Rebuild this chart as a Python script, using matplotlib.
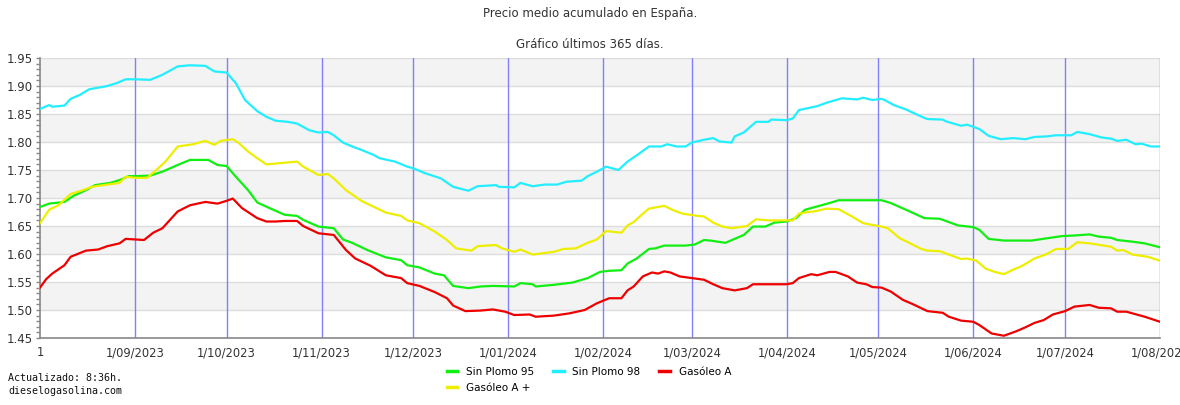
import numpy as np
import pandas as pd
import matplotlib
matplotlib.use("Agg")
import matplotlib.pyplot as plt
from matplotlib.lines import Line2D

# days counted from 1/08/2023, prices in EUR/l
sp95_days = [0, 3, 8, 11, 15, 18, 23, 26, 29, 31, 36, 40, 45, 49, 55, 58, 61, 64, 68, 71, 75, 80, 84, 86, 91,
             96, 99, 102, 107, 113, 118, 120, 124, 129, 132, 135, 140, 144, 148, 155, 157, 161, 162, 168, 174, 179, 183,
             186, 190, 192, 195, 199, 201, 204, 211, 214, 217, 219, 224, 227, 230, 233, 237, 240, 244, 247, 250, 254,
             258, 261, 273, 275, 278, 283, 285, 289, 294, 300, 305, 307, 310, 315, 324, 329, 334, 338, 343, 346, 350,
             352, 357, 361, 366]
sp95 = [1.684, 1.690, 1.693, 1.704, 1.714, 1.723, 1.727, 1.732, 1.739, 1.739, 1.740, 1.747, 1.759, 1.768, 1.768,
        1.759, 1.757, 1.738, 1.714, 1.692, 1.682, 1.670, 1.668, 1.661, 1.649,
        1.646, 1.626, 1.620, 1.607, 1.594, 1.589, 1.580, 1.576, 1.565, 1.562, 1.543, 1.539, 1.542, 1.543, 1.542,
        1.548, 1.546, 1.542, 1.545, 1.549, 1.557, 1.568,
        1.570, 1.571, 1.583, 1.592, 1.609, 1.610, 1.615, 1.615, 1.617, 1.625, 1.624, 1.620, 1.627, 1.634, 1.649,
        1.649, 1.656, 1.658, 1.664, 1.679, 1.685, 1.691, 1.696, 1.696, 1.696, 1.691, 1.679, 1.674, 1.664, 1.663,
        1.651, 1.648, 1.643, 1.627, 1.624, 1.624, 1.628, 1.632, 1.633, 1.635, 1.631, 1.629, 1.625, 1.622, 1.619,
        1.612]

sp98_days = [0, 3, 4, 8, 10, 13, 16, 22, 25, 28, 31, 36, 40, 45, 49, 54, 57, 61, 64, 67, 71, 74, 77, 81, 84, 88, 91,
             94, 96, 99, 102, 105, 109, 111, 116, 120, 122, 126, 131, 135, 140, 143, 149, 150, 155, 157, 161, 165, 169,
             172, 177, 179, 182, 185, 189, 192, 196, 199, 203, 205, 208, 211, 213, 217, 220, 222, 226, 227, 230, 234,
             238, 239, 244, 246, 248, 254, 257, 262, 267, 269, 272, 275, 276, 279, 283, 289, 290, 295, 296, 301, 303,
             307, 310, 314, 318, 322, 325, 329, 332, 337, 339, 343, 347, 350, 352, 355, 358, 360, 363, 366]
sp98 = [1.859, 1.866, 1.863, 1.865, 1.877, 1.884, 1.894, 1.900, 1.905, 1.912, 1.912, 1.911, 1.920, 1.935, 1.937,
        1.936, 1.926, 1.924, 1.905, 1.875, 1.855, 1.845, 1.838, 1.836, 1.833, 1.821, 1.817,
        1.818, 1.812, 1.799, 1.792, 1.786, 1.777, 1.771, 1.765, 1.756, 1.753, 1.744, 1.735, 1.720, 1.713, 1.721,
        1.723, 1.720, 1.719, 1.727, 1.721, 1.724, 1.724, 1.729, 1.731, 1.739, 1.747, 1.756,
        1.750, 1.765, 1.780, 1.792, 1.792, 1.796, 1.792, 1.792, 1.799, 1.804, 1.807, 1.801, 1.799, 1.810, 1.817,
        1.836, 1.836, 1.840, 1.839, 1.842, 1.857, 1.864, 1.870, 1.878, 1.876, 1.879, 1.875,
        1.877, 1.875, 1.866, 1.858, 1.843, 1.841, 1.840, 1.837, 1.829, 1.831, 1.823, 1.811, 1.805, 1.807, 1.805,
        1.809, 1.810, 1.812, 1.812, 1.818, 1.814, 1.808, 1.806, 1.802, 1.804, 1.796, 1.797, 1.792, 1.792]

ga_days = [0, 2, 4, 8, 10, 15, 19, 22, 26, 28, 31, 34, 37, 40, 45, 49, 54, 58, 61, 63, 66, 71, 74, 77, 80, 84, 86, 91,
           96, 100, 103, 108, 113, 118, 120, 124, 129, 133, 135, 139, 144, 148, 152, 155, 160, 162, 168, 173, 178, 182,
           186, 190, 192, 194, 197, 200, 202, 204, 206, 209, 213, 217, 220, 223, 227, 231, 233, 244, 246, 248, 252, 254,
           258, 260, 264, 267, 270, 272, 275, 278, 282, 285, 290, 295, 297, 301, 305, 307, 311, 315, 319, 322, 325, 328,
           331, 335, 338, 343, 346, 350, 352, 355, 361, 366]
ga = [1.540, 1.555, 1.565, 1.580, 1.595, 1.606, 1.608, 1.614, 1.619, 1.627, 1.626, 1.625, 1.638, 1.646, 1.676,
      1.687, 1.693, 1.690, 1.695, 1.699, 1.682, 1.664, 1.658, 1.658, 1.659, 1.659, 1.650, 1.637,
      1.634, 1.607, 1.592, 1.579, 1.562, 1.557, 1.548, 1.543, 1.532, 1.521, 1.508, 1.498, 1.499, 1.501, 1.497,
      1.491, 1.492, 1.488, 1.490, 1.494, 1.500, 1.512,
      1.521, 1.521, 1.535, 1.542, 1.560, 1.567, 1.565, 1.569, 1.567, 1.560, 1.557, 1.554, 1.546, 1.539, 1.535,
      1.539, 1.546, 1.546, 1.548, 1.557, 1.564, 1.562, 1.568, 1.568, 1.560, 1.549, 1.546, 1.541,
      1.540, 1.533, 1.518, 1.511, 1.498, 1.495, 1.488, 1.481, 1.479, 1.473, 1.458, 1.454, 1.462, 1.469, 1.477,
      1.482, 1.492, 1.498, 1.506, 1.509, 1.504, 1.503, 1.497, 1.497, 1.488, 1.479]

gap_days = [0, 3, 6, 10, 14, 17, 22, 26, 28, 31, 35, 38, 41, 45, 50, 54, 57, 59, 63, 65, 68, 71, 74, 80, 84, 86, 91,
            94, 96, 100, 105, 108, 113, 118, 120, 124, 129, 133, 136, 141, 143, 149, 151, 155, 157, 161, 168, 171, 175,
            179, 182, 185, 190, 192, 194, 197, 199, 204, 207, 210, 215, 217, 220, 223, 226, 231, 234, 238, 246, 248,
            251, 253, 257, 261, 265, 269, 272, 275, 277, 281, 284, 288, 290, 294, 301, 303, 306, 309, 312, 315, 318,
            321, 325, 329, 332, 336, 339, 343, 350, 352, 354, 357, 362, 366]
gap = [1.655, 1.679, 1.687, 1.707, 1.714, 1.720, 1.724, 1.727, 1.738, 1.736, 1.736, 1.750, 1.765, 1.792, 1.796,
       1.802, 1.795, 1.802, 1.805, 1.798, 1.783, 1.771, 1.760, 1.763, 1.765, 1.756, 1.741,
       1.743, 1.735, 1.714, 1.695, 1.687, 1.674, 1.668, 1.660, 1.655, 1.640, 1.625, 1.610, 1.606, 1.614, 1.616,
       1.610, 1.604, 1.608, 1.599, 1.604, 1.609, 1.610, 1.620, 1.626, 1.641,
       1.638, 1.651, 1.657, 1.672, 1.681, 1.686, 1.678, 1.672, 1.668, 1.667, 1.656, 1.649, 1.646, 1.650, 1.662,
       1.660, 1.660, 1.672, 1.675, 1.676, 1.681, 1.680, 1.668, 1.655, 1.652,
       1.649, 1.646, 1.628, 1.620, 1.609, 1.606, 1.605, 1.591, 1.592, 1.588, 1.574, 1.568, 1.564, 1.572, 1.579,
       1.592, 1.600, 1.609, 1.609, 1.621, 1.619, 1.613, 1.606, 1.607, 1.599, 1.595, 1.588]

start = pd.Timestamp("2023-08-01")
months = pd.date_range("2023-08-01", "2024-08-01", freq="MS")
month_labels = ["1"] + [f"1/{m.month:02d}/{m.year}" for m in months[1:]]

series = [
    ("Sin Plomo 95", sp95_days, sp95, "#11ee11"),
    ("Sin Plomo 98", sp98_days, sp98, "#22eeff"),
    ("Gasóleo A", ga_days, ga, "#ee0000"),
    ("Gasóleo A +", gap_days, gap, "#eeee00"),
]

fig = plt.figure(figsize=(11.8, 4.05), dpi=100)
ax = fig.add_axes([40 / 1180, 1 - 338 / 405, 1120 / 1180, 280 / 405])

# alternating bands and grid
for lo in np.arange(1.50, 1.95, 0.10):
    ax.axhspan(lo, lo + 0.05, color="#f3f3f3", zorder=0, lw=0)
for yv in np.arange(1.50, 1.951, 0.05):
    ax.axhline(yv, color="#dddddd", lw=1, zorder=1)
for m in months[1:]:
    ax.axvline(m, color="#8080ff", lw=1, zorder=2)

handles = {}
for name, d, v, c in series:
    dates = start + pd.to_timedelta(d, unit="D")
    ax.plot(dates, v, color=c, lw=1.6, zorder=3)
    handles[name] = Line2D([], [], color=c, lw=2.5)

ax.set_xlim(months[0], months[-1])
ax.set_ylim(1.45, 1.95)
ax.set_yticks(np.arange(1.45, 1.951, 0.05))
ax.set_yticklabels([f"{v:.2f}" for v in np.arange(1.45, 1.951, 0.05)])
ax.set_yticks(np.arange(1.45, 1.951, 0.01), minor=True)
ax.set_xticks(months)
ax.set_xticklabels(month_labels)
ax.tick_params(axis="y", which="both", direction="out", length=3, width=1, color="#888888",
               labelsize=8.5, labelcolor="#333333", pad=2)
ax.tick_params(axis="x", length=0, labelsize=8.3, labelcolor="#333333", pad=6)
for s in ["top", "right"]:
    ax.spines[s].set_visible(False)
for s in ["left", "bottom"]:
    ax.spines[s].set_color("#888888")
    ax.spines[s].set_linewidth(1.2)

fig.text(0.5, 1 - 13 / 405, "Precio medio acumulado en España.", ha="center", va="center",
         fontsize=8.5, color="#333333")
fig.text(0.5, 1 - 45 / 405, "Gráfico últimos 365 días.", ha="center", va="center",
         fontsize=8.5, color="#333333")
fig.text(8 / 1180, 1 - 378 / 405, "Actualizado: 8:36h.", ha="left", va="center",
         fontsize=7.2, family="DejaVu Sans Mono", color="#111111")
fig.text(8 / 1180, 1 - 391 / 405, "dieselogasolina.com", ha="left", va="center",
         fontsize=7.2, family="DejaVu Sans Mono", color="#111111")

order = ["Sin Plomo 95", "Gasóleo A +", "Sin Plomo 98", "Gasóleo A"]
fig.legend([handles[k] for k in order], order, ncol=3, loc="upper left",
           bbox_to_anchor=(447 / 1180, 1 - 367 / 405), frameon=False, fontsize=7.5,
           handlelength=1.0, handletextpad=0.85, columnspacing=1.8, labelspacing=0.55,
           borderaxespad=0, borderpad=0)

fig.savefig("out.png", dpi=100)
